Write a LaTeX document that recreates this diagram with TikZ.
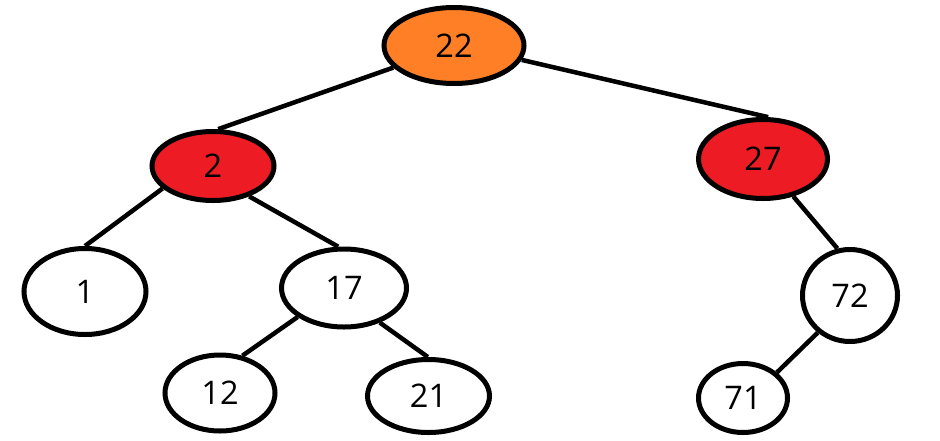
\documentclass[tikz,border=0pt]{standalone}
\usepackage{fontspec}
\setmainfont{Open Sans}
\usetikzlibrary{shapes.geometric}
\definecolor{paintorange}{HTML}{FF7F27}
\definecolor{paintred}{HTML}{ED1C24}

\begin{document}
\begin{tikzpicture}[
    key/.style={ellipse,draw=black,line width=0.1cm,fill=white,inner sep=0pt,
      font=\fontsize{18.5}{21}\selectfont},
    root/.style={key,fill=paintorange},
    hot/.style={key,fill=paintred},
    link/.style={line width=0.09cm,draw=black}]
    \useasboundingbox (0,0) rectangle (18.8,-8.8);
    \node[root,minimum width=2.80cm,minimum height=1.52cm] (k22) at (9.08,-0.91) {22};
    \node[hot,minimum width=2.44cm,minimum height=1.38cm] (k2) at (4.26,-3.32) {2};
    \node[hot,minimum width=2.58cm,minimum height=1.58cm] (k27) at (15.26,-3.18) {27};
    \node[key,minimum width=2.44cm,minimum height=1.72cm] (k1) at (1.70,-5.83) {1};
    \node[key,minimum width=2.50cm,minimum height=1.56cm] (k17) at (6.88,-5.76) {17};
    \node[key,minimum width=1.90cm,minimum height=1.84cm] (k72) at (17.00,-5.91) {72};
    \node[key,minimum width=2.20cm,minimum height=1.52cm] (k12) at (4.40,-7.86) {12};
    \node[key,minimum width=2.44cm,minimum height=1.46cm] (k21) at (8.57,-7.92) {21};
    \node[key,minimum width=1.78cm,minimum height=1.38cm] (k71) at (14.86,-7.96) {71};
    \draw[link] (k22.200) -- (k2.82);
    \draw[link] (k22.348) -- (k27.83);
    \draw[link] (k2.204) -- (k1.90);
    \draw[link] (k2.320) -- (k17.98);
    \draw[link] (k17.212) -- (k12.59);
    \draw[link] (k17.316) -- (k21.91);
    \draw[link] (k27.309) -- (k72.105);
    \draw[link] (k72.229) -- (k71.37);
\end{tikzpicture}
\end{document}
